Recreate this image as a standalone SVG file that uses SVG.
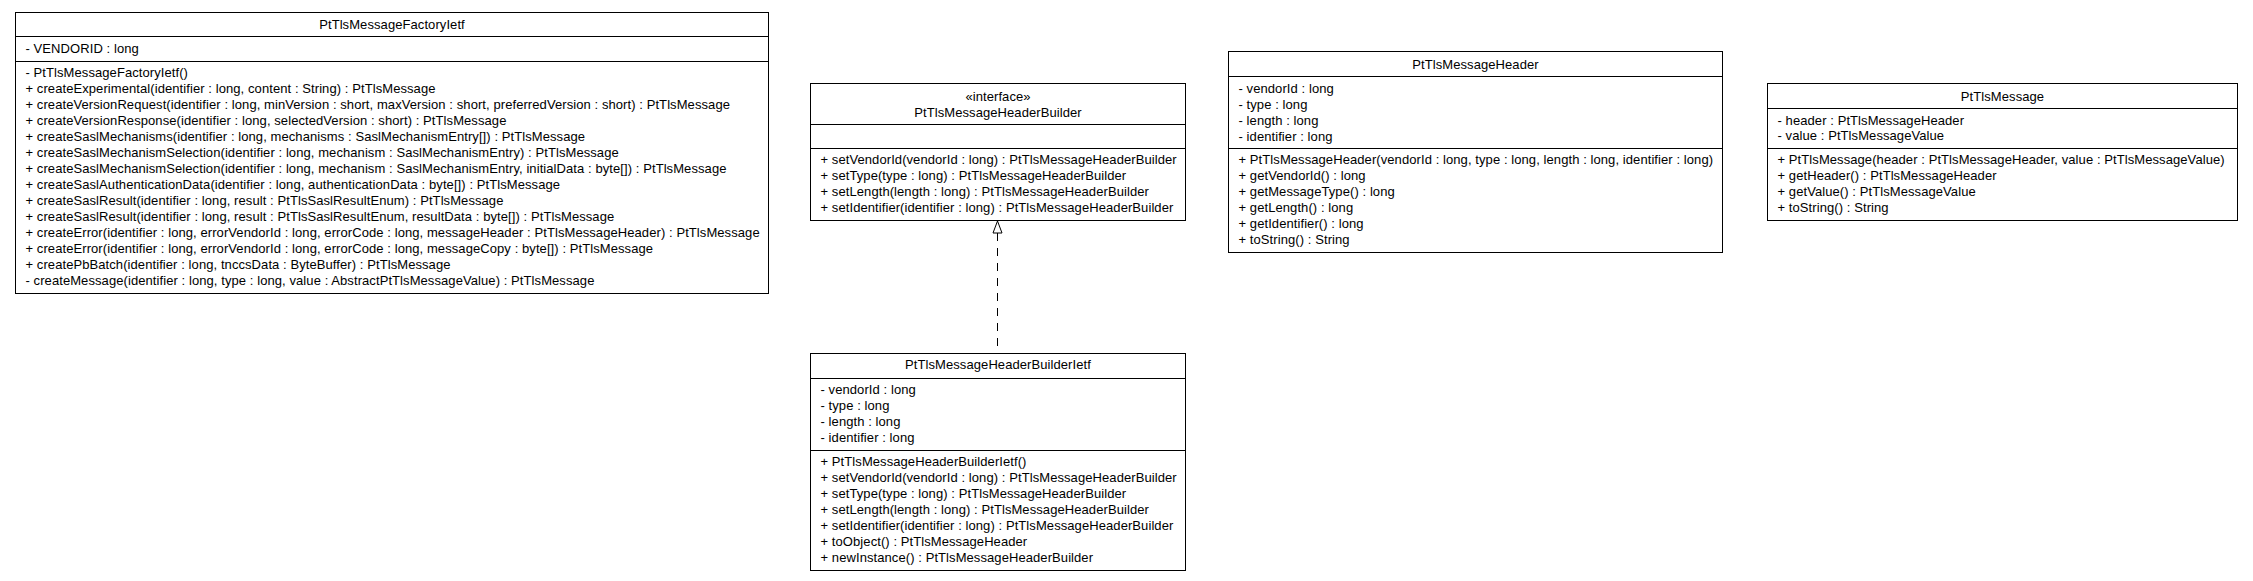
<svg xmlns="http://www.w3.org/2000/svg" width="2253" height="581" viewBox="0 0 2253 581">
<style>
  .box { fill: #ffffff; stroke: #000000; stroke-width: 1; }
  .sep { stroke: #000000; stroke-width: 1; fill: none; }
  text { font-family: "Liberation Sans", Arial, Helvetica, sans-serif; font-size: 13px; fill: #000000; letter-spacing: 0.08px; }
  .title { text-anchor: middle; }
  .conn { stroke: #000000; stroke-width: 1; fill: none; stroke-dasharray: 8,7; }
  .head { fill: #ffffff; stroke: #000000; stroke-width: 1; }
</style>
<rect x="0" y="0" width="2253" height="581" fill="#ffffff"/>

<g id="PtTlsMessageFactoryIetf">
  <rect class="box" x="15.5" y="12.5" width="753" height="281"/>
  <line class="sep" x1="15.5" y1="36.5" x2="768.5" y2="36.5"/>
  <line class="sep" x1="15.5" y1="61.5" x2="768.5" y2="61.5"/>
  <text class="title" x="392" y="29">PtTlsMessageFactoryIetf</text>
  <text x="25.5" y="52.5">- VENDORID : long</text>
  <text x="25.5" y="76.5">- PtTlsMessageFactoryIetf()</text>
  <text x="25.5" y="92.5">+ createExperimental(identifier : long, content : String) : PtTlsMessage</text>
  <text x="25.5" y="108.5">+ createVersionRequest(identifier : long, minVersion : short, maxVersion : short, preferredVersion : short) : PtTlsMessage</text>
  <text x="25.5" y="124.5">+ createVersionResponse(identifier : long, selectedVersion : short) : PtTlsMessage</text>
  <text x="25.5" y="140.5">+ createSaslMechanisms(identifier : long, mechanisms : SaslMechanismEntry[]) : PtTlsMessage</text>
  <text x="25.5" y="156.5">+ createSaslMechanismSelection(identifier : long, mechanism : SaslMechanismEntry) : PtTlsMessage</text>
  <text x="25.5" y="172.5">+ createSaslMechanismSelection(identifier : long, mechanism : SaslMechanismEntry, initialData : byte[]) : PtTlsMessage</text>
  <text x="25.5" y="188.5">+ createSaslAuthenticationData(identifier : long, authenticationData : byte[]) : PtTlsMessage</text>
  <text x="25.5" y="204.5">+ createSaslResult(identifier : long, result : PtTlsSaslResultEnum) : PtTlsMessage</text>
  <text x="25.5" y="220.5">+ createSaslResult(identifier : long, result : PtTlsSaslResultEnum, resultData : byte[]) : PtTlsMessage</text>
  <text x="25.5" y="236.5">+ createError(identifier : long, errorVendorId : long, errorCode : long, messageHeader : PtTlsMessageHeader) : PtTlsMessage</text>
  <text x="25.5" y="252.5">+ createError(identifier : long, errorVendorId : long, errorCode : long, messageCopy : byte[]) : PtTlsMessage</text>
  <text x="25.5" y="268.5">+ createPbBatch(identifier : long, tnccsData : ByteBuffer) : PtTlsMessage</text>
  <text x="25.5" y="284.5">- createMessage(identifier : long, type : long, value : AbstractPtTlsMessageValue) : PtTlsMessage</text>
</g>

<g id="PtTlsMessageHeaderBuilder">
  <rect class="box" x="810.5" y="83.5" width="375" height="137"/>
  <line class="sep" x1="810.5" y1="124.5" x2="1185.5" y2="124.5"/>
  <line class="sep" x1="810.5" y1="148.5" x2="1185.5" y2="148.5"/>
  <text class="title" x="998" y="101">«interface»</text>
  <text class="title" x="998" y="116.5">PtTlsMessageHeaderBuilder</text>
  <text x="820.5" y="164">+ setVendorId(vendorId : long) : PtTlsMessageHeaderBuilder</text>
  <text x="820.5" y="180">+ setType(type : long) : PtTlsMessageHeaderBuilder</text>
  <text x="820.5" y="196">+ setLength(length : long) : PtTlsMessageHeaderBuilder</text>
  <text x="820.5" y="212">+ setIdentifier(identifier : long) : PtTlsMessageHeaderBuilder</text>
</g>

<g id="PtTlsMessageHeader">
  <rect class="box" x="1228.5" y="51.5" width="494" height="201"/>
  <line class="sep" x1="1228.5" y1="76.5" x2="1722.5" y2="76.5"/>
  <line class="sep" x1="1228.5" y1="148.5" x2="1722.5" y2="148.5"/>
  <text class="title" x="1475.5" y="68.5">PtTlsMessageHeader</text>
  <text x="1238.5" y="92.5">- vendorId : long</text>
  <text x="1238.5" y="108.5">- type : long</text>
  <text x="1238.5" y="124.5">- length : long</text>
  <text x="1238.5" y="140.5">- identifier : long</text>
  <text x="1238.5" y="164">+ PtTlsMessageHeader(vendorId : long, type : long, length : long, identifier : long)</text>
  <text x="1238.5" y="180">+ getVendorId() : long</text>
  <text x="1238.5" y="196">+ getMessageType() : long</text>
  <text x="1238.5" y="212">+ getLength() : long</text>
  <text x="1238.5" y="228">+ getIdentifier() : long</text>
  <text x="1238.5" y="244">+ toString() : String</text>
</g>

<g id="PtTlsMessage">
  <rect class="box" x="1767.5" y="83.5" width="470" height="137"/>
  <line class="sep" x1="1767.5" y1="108.5" x2="2237.5" y2="108.5"/>
  <line class="sep" x1="1767.5" y1="148.5" x2="2237.5" y2="148.5"/>
  <text class="title" x="2002.5" y="100.5">PtTlsMessage</text>
  <text x="1777.5" y="124.5">- header : PtTlsMessageHeader</text>
  <text x="1777.5" y="140">- value : PtTlsMessageValue</text>
  <text x="1777.5" y="164">+ PtTlsMessage(header : PtTlsMessageHeader, value : PtTlsMessageValue)</text>
  <text x="1777.5" y="180">+ getHeader() : PtTlsMessageHeader</text>
  <text x="1777.5" y="196">+ getValue() : PtTlsMessageValue</text>
  <text x="1777.5" y="212">+ toString() : String</text>
</g>

<g id="PtTlsMessageHeaderBuilderIetf">
  <rect class="box" x="810.5" y="353.5" width="375" height="217"/>
  <line class="sep" x1="810.5" y1="378.5" x2="1185.5" y2="378.5"/>
  <line class="sep" x1="810.5" y1="450.5" x2="1185.5" y2="450.5"/>
  <text class="title" x="998" y="369">PtTlsMessageHeaderBuilderIetf</text>
  <text x="820.5" y="394">- vendorId : long</text>
  <text x="820.5" y="410">- type : long</text>
  <text x="820.5" y="426">- length : long</text>
  <text x="820.5" y="442">- identifier : long</text>
  <text x="820.5" y="466">+ PtTlsMessageHeaderBuilderIetf()</text>
  <text x="820.5" y="482">+ setVendorId(vendorId : long) : PtTlsMessageHeaderBuilder</text>
  <text x="820.5" y="498">+ setType(type : long) : PtTlsMessageHeaderBuilder</text>
  <text x="820.5" y="514">+ setLength(length : long) : PtTlsMessageHeaderBuilder</text>
  <text x="820.5" y="530">+ setIdentifier(identifier : long) : PtTlsMessageHeaderBuilder</text>
  <text x="820.5" y="546">+ toObject() : PtTlsMessageHeader</text>
  <text x="820.5" y="562">+ newInstance() : PtTlsMessageHeaderBuilder</text>
</g>

<g id="connectors">
  <line class="conn" x1="997.5" y1="233" x2="997.5" y2="353"/>
  <polygon class="head" points="997.5,221 993,233 1002,233"/>
</g>
</svg>
